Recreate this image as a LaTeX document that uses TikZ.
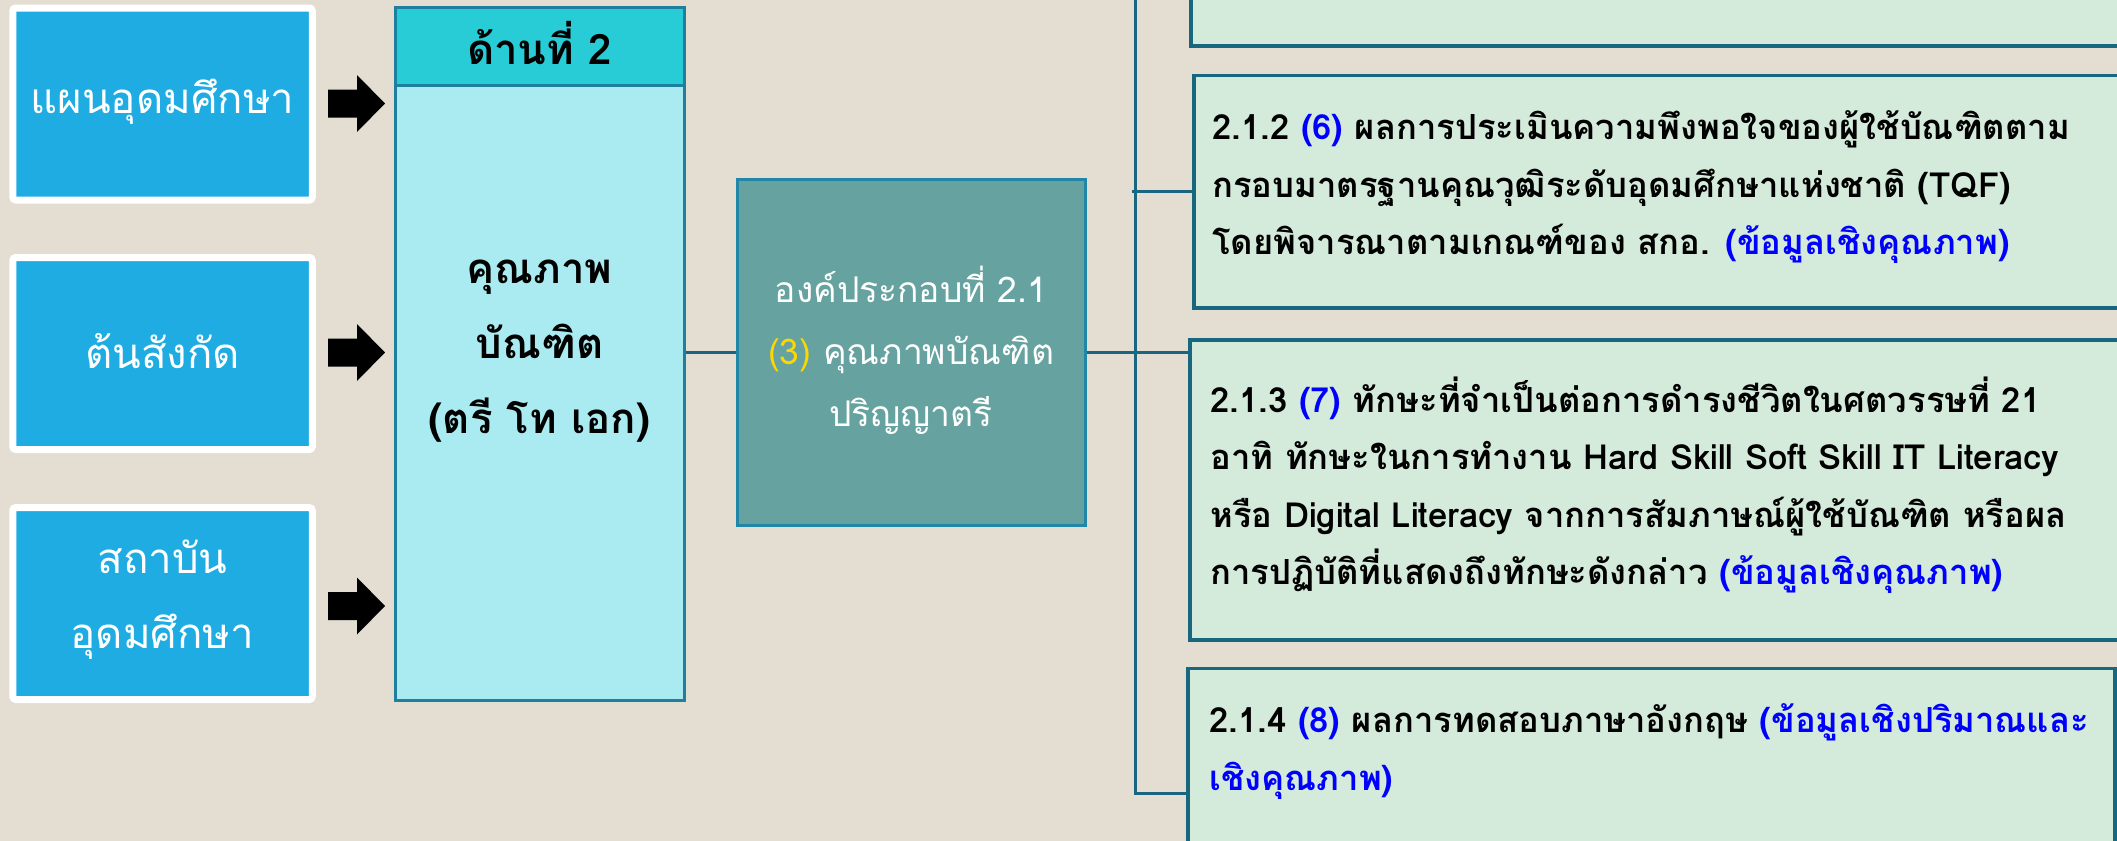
\documentclass[tikz,border=0pt]{standalone}
\usepackage{fontspec}
\setmainfont[Script=Thai]{Loma}
\definecolor{bgc}{HTML}{E3DDD2}
\definecolor{lbfill}{HTML}{1FACE3}
\definecolor{hdrfill}{HTML}{27CCD7}
\definecolor{bodyfill}{HTML}{A9EBF0}
\definecolor{bigborder}{HTML}{1F7F9E}
\definecolor{midfill}{HTML}{66A3A0}
\definecolor{midborder}{HTML}{2087A8}
\definecolor{linec}{HTML}{1A6680}
\definecolor{rfill}{HTML}{D4EADB}
\definecolor{rborder}{HTML}{17687F}
\definecolor{bluet}{HTML}{0000FF}
\definecolor{yel}{HTML}{FFD700}
\tikzset{
  leftbox/.style={draw=white, line width=3.5pt, fill=lbfill, rounded corners=1.5pt, minimum width=149.75pt, minimum height=96pt, inner sep=0pt},
  lefttxt/.style={text=white, font=\fontsize{21}{37.5}\selectfont, align=center, inner sep=0pt},
  bigbody/.style={draw=bigborder, line width=1.5pt, fill=bodyfill, minimum width=144.5pt, minimum height=346.25pt, inner sep=0pt},
  bighdr/.style={draw=bigborder, line width=1.5pt, fill=hdrfill, minimum width=144.5pt, minimum height=38.75pt, inner sep=0pt},
  bigtxt/.style={text=black, font=\bfseries\fontsize{21}{37.5}\selectfont, align=center, inner sep=0pt},
  midbox/.style={draw=midborder, line width=1.5pt, fill=midfill, minimum width=174pt, minimum height=173pt, inner sep=0pt},
  midtxt/.style={text=white, font=\fontsize{17.7}{31}\selectfont, align=center, inner sep=0pt},
  rbox/.style={draw=rborder, line width=1.75pt, fill=rfill, inner sep=0pt},
  rtxt/.style={text=black, font=\bfseries\fontsize{17.3}{28.75}\selectfont, align=left, inner sep=0pt, anchor=west},
  conn/.style={draw=linec, line width=1.5pt},
  blockarrow/.style={fill=black}
}
\newcommand{\bl}[1]{\textcolor{bluet}{#1}}
\begin{document}
\begin{tikzpicture}[x=0.5pt,y=-0.5pt]
\useasboundingbox (0,0) rectangle (2117,841);
\clip (0,0) rectangle (2117,841);
\fill[bgc] (0,0) rectangle (2117,841);

% left boxes
\node[leftbox] (lb1) at (162.5,104) {};
\node[leftbox] (lb2) at (162.5,353.5) {};
\node[leftbox] (lb3) at (162.5,603.5) {};
\node[lefttxt] (lt1) at (162.5,102) {แผนอุดมศึกษา};
\node[lefttxt] (lt2) at (162.5,351) {ต้นสังกัด};
\node[lefttxt] (lt3) at (162.5,600) {สถาบัน\\อุดมศึกษา};

% block arrows
\foreach \n/\yy in {1/103.5,2/352.5,3/606}{
  \coordinate (ar\n) at (328,\yy);
  \fill[blockarrow] (ar\n) ++(0,-14) -- ++(29,0) -- ++(0,-14.5) -- ++(28,28.5) -- ++(-28,28.5) -- ++(0,-14.5) -- ++(-29,0) -- cycle;
}

% big box
\node[bigbody] (big) at (539.5,353.75) {};
\node[bighdr] (hdr) at (539.5,46.25) {};
\node[bigtxt] (hdrt) at (539.5,43) {ด้านที่ 2};
\node[bigtxt] (bigt) at (539.5,351) {คุณภาพ\\บัณฑิต\\(ตรี โท เอก)};

% middle box
\node[midbox] (mid) at (911,352) {};
\node[midtxt] (midt) at (911,350.5) {องค์ประกอบที่ 2.1\\\textcolor{yel}{(3)} คุณภาพบัณฑิต\\ปริญญาตรี};

% right boxes
\node[rbox, minimum width=554.5pt, minimum height=173pt] (b211) at (1745.5,-127) {};
\node[rbox, minimum width=553pt, minimum height=116.25pt] (b212) at (1747,191.75) {};
\node[rbox, minimum width=555pt, minimum height=150pt] (b213) at (1745,490) {};
\node[rbox, minimum width=463.5pt, minimum height=140.75pt] (b214) at (1651.5,809.25) {};

\node[rtxt, text=bluet] (t211) at (1458,-24) {(ข้อมูลเชิงคุณภาพ)};
\node[rtxt] (t212) at (1212,187.5) {2.1.2 \bl{(6)} ผลการประเมินความพึงพอใจของผู้ใช้บัณฑิตตาม\\กรอบมาตรฐานคุณวุฒิระดับอุดมศึกษาแห่งชาติ (TQF)\\โดยพิจารณาตามเกณฑ์ของ สกอ. \bl{(ข้อมูลเชิงคุณภาพ)}};
\node[rtxt] (t213) at (1210,485) {2.1.3 \bl{(7)} ทักษะที่จำเป็นต่อการดำรงชีวิตในศตวรรษที่ 21\\อาทิ ทักษะในการทำงาน Hard Skill Soft Skill IT Literacy\\หรือ Digital Literacy จากการสัมภาษณ์ผู้ใช้บัณฑิต หรือผล\\การปฏิบัติที่แสดงถึงทักษะดังกล่าว \bl{(ข้อมูลเชิงคุณภาพ)}};
\node[rtxt] (t214) at (1209,751.5) {2.1.4 \bl{(8)} ผลการทดสอบภาษาอังกฤษ \bl{(ข้อมูลเชิงปริมาณและ}\\\bl{เชิงคุณภาพ)}};

% connectors
\draw[conn] (big.east |- mid.west) -- (mid.west);
\draw[conn] (mid.east) -- (mid.east -| b213.west);
\coordinate (trunkTop) at (1135,-5);
\coordinate (trunkBot) at (1135,793);
\draw[conn] (trunkTop) -- (trunkBot) -- (trunkBot -| b214.west);
\coordinate (c212) at (1132,191.75);
\draw[conn] (c212) -- (b212.west);
\end{tikzpicture}
\end{document}
